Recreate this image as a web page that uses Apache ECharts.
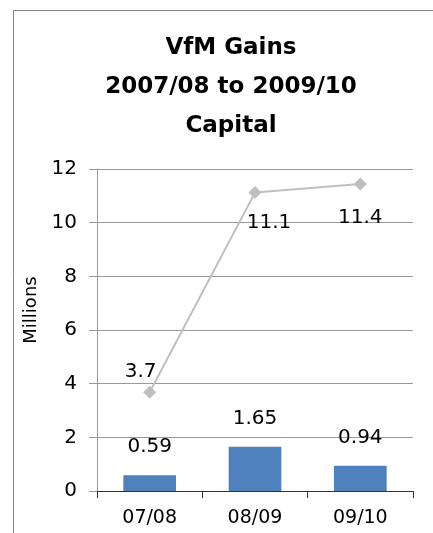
<!DOCTYPE html>
<html>
<head>
<meta charset="utf-8">
<style>
  html, body { margin: 0; padding: 0; background: #fff; }
  #chart { width: 433px; height: 533px; }
</style>
<script src="https://cdn.jsdelivr.net/npm/echarts@6/dist/echarts.min.js"></script>
</head>
<body>
<div id="chart"></div>
<script>
const categories = ['07/08', '08/09', '09/10']
const barValues = [0.59, 1.65, 0.94]
const lineValues = [3.68, 11.12, 11.44]
const yTicks = [0, 2, 4, 6, 8, 10, 12]

const FONT = 'DejaVu Sans'
// per-point label nudges, Excel placed these by hand
const lineLabelShift = [[-9, -20], [14, 30], [0, 34]]

const chart = echarts.init(document.getElementById('chart'), null, { renderer: 'canvas' })

chart.setOption({
  animation: false,
  backgroundColor: '#fff',
  textStyle: { fontFamily: FONT, color: '#000' },
  title: {
    text: 'VfM Gains\n2007/08 to 2009/10\nCapital',
    left: 231,
    top: 29,
    padding: 0,
    textAlign: 'center',
    textStyle: { fontFamily: FONT, fontSize: 23, fontWeight: 'bold', color: '#000', lineHeight: 39 },
  },
  graphic: [
    {
      type: 'rect',
      shape: { x: 13.5, y: 10.5, width: 600, height: 700 },
      style: { fill: 'none', stroke: '#868686', lineWidth: 1 },
      silent: true,
    },
  ],
  grid: { left: 97, right: 20, top: 169, bottom: 42 },
  xAxis: {
    type: 'category',
    data: categories,
    axisLine: { lineStyle: { color: '#333', width: 1 } },
    axisTick: { show: true, length: 7, lineStyle: { color: '#333' } },
    axisLabel: { fontFamily: FONT, fontSize: 19, color: '#000', margin: 18 },
  },
  yAxis: {
    type: 'value',
    min: yTicks[0],
    max: yTicks[yTicks.length - 1],
    interval: 2,
    name: 'Millions',
    nameLocation: 'middle',
    nameRotate: 90,
    nameGap: 55,
    nameTextStyle: { fontFamily: FONT, fontSize: 18, color: '#000', padding: [0, 0, 0, 40] },
    axisLine: { show: true, lineStyle: { color: '#999' } },
    axisTick: { show: true, length: 8, lineStyle: { color: '#999' } },
    axisLabel: { fontFamily: FONT, fontSize: 20, color: '#000', margin: 20 },
    splitLine: { lineStyle: { color: '#999', width: 1 } },
  },
  series: [
    {
      name: 'Bars',
      type: 'bar',
      data: barValues,
      barWidth: '50%',
      itemStyle: { color: '#4F81BD' },
      label: {
        show: true,
        position: 'top',
        distance: 18,
        fontFamily: FONT,
        fontSize: 20,
        color: '#000',
      },
      z: 2,
    },
    {
      name: 'Line',
      type: 'line',
      data: lineValues.map((v, i) => ({
        value: v,
        label: { offset: lineLabelShift[i] },
      })),
      symbol: 'diamond',
      symbolSize: 13,
      itemStyle: { color: '#BFBFBF' },
      lineStyle: { color: '#BFBFBF', width: 2 },
      label: {
        show: true,
        position: 'inside',
        fontFamily: FONT,
        fontSize: 20,
        color: '#000',
        formatter: (p) => p.value.toFixed(1),
      },
      z: 3,
    },
  ],
})
</script>
</body>
</html>
